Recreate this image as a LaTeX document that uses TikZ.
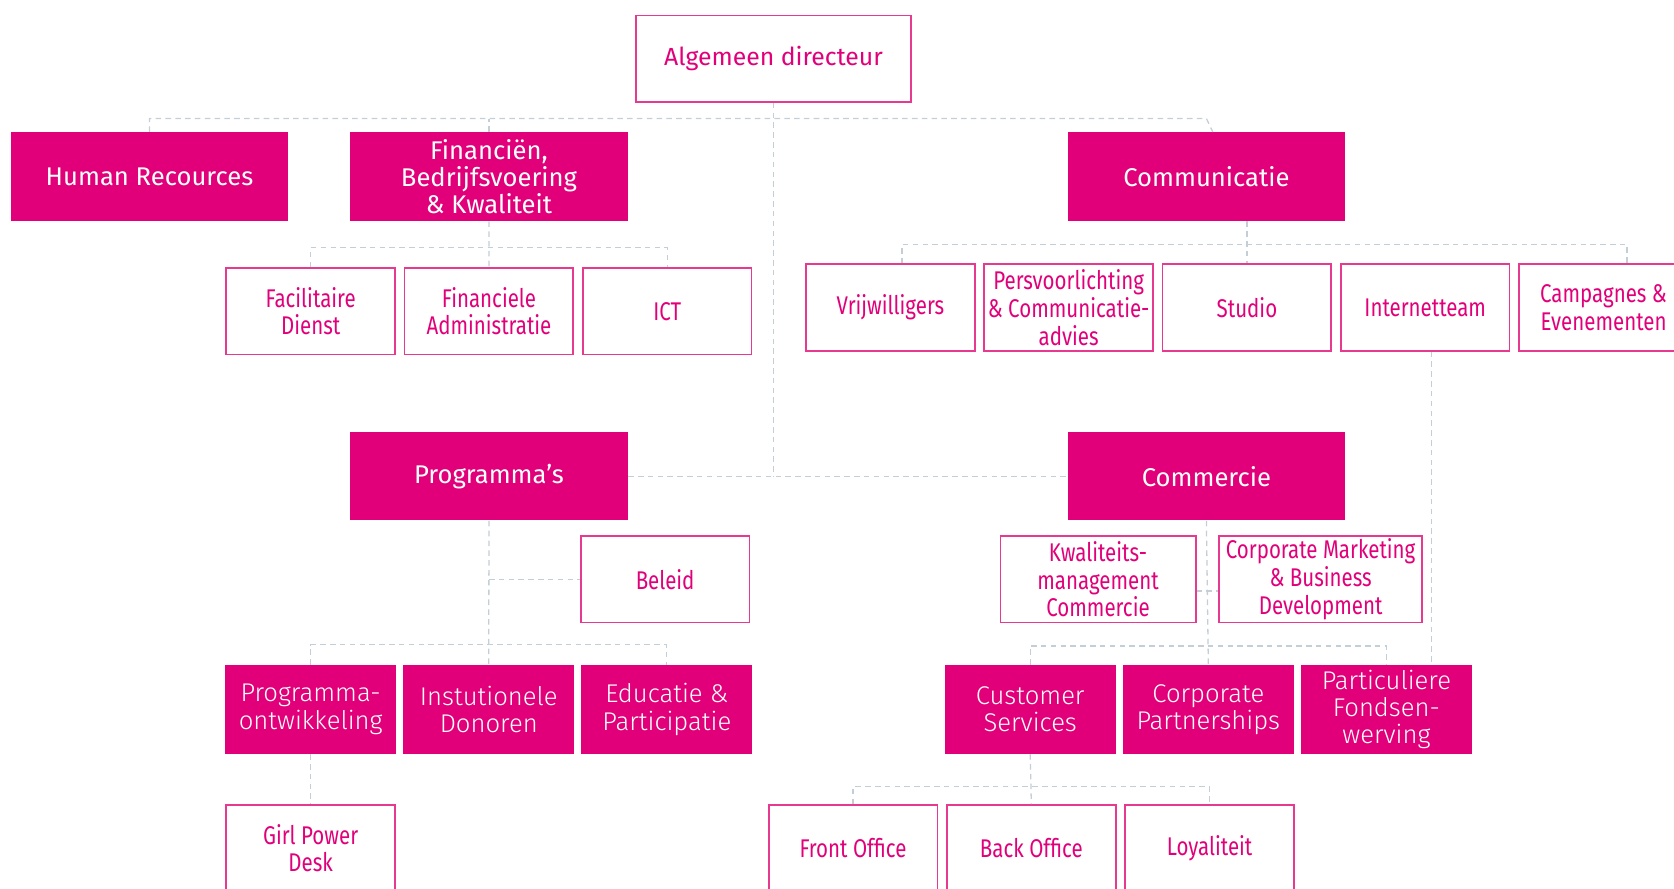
\documentclass[tikz,border=0pt]{standalone}
\usepackage{fontspec}
\setmainfont{Fira Sans}
\newfontfamily\lightfont{Fira Sans Light}
\newfontfamily\narrowfont{Fira Sans}[FakeStretch=0.8]
\usetikzlibrary{positioning}
\definecolor{kwfpink}{HTML}{E2007A}
\definecolor{kwfedge}{HTML}{E6398F}
\definecolor{kwfline}{HTML}{C3CED6}

\tikzset{
  unit/.style={fill=kwfpink,text=white,inner sep=0pt,align=center,minimum width=130pt,minimum height=41.5pt,font=\fontsize{12}{12.6}\selectfont},
  team/.style={fill=kwfpink,text=white,inner sep=0pt,align=center,minimum width=80pt,minimum height=41.5pt,font=\lightfont\fontsize{12}{12.8}\selectfont},
  desk/.style={draw=kwfedge,line width=0.8pt,fill=white,text=kwfpink,inner sep=0pt,align=center,minimum width=79pt,minimum height=40.5pt,font=\narrowfont\fontsize{12}{13}\selectfont},
  link/.style={draw=kwfline,line width=0.6pt,dash pattern=on 2.6pt off 2pt},
}

\begin{document}
\begin{tikzpicture}[x=0.5pt,y=-0.5pt]
\clip (0,0) rectangle (1568,832);

% directie en staf
\node (dir) [desk,minimum width=129pt,font=\fontsize{11.6}{13}\selectfont] at (724.5,55) {Algemeen directeur};
\node (hr) [unit] at (140,165.5) {Human Recources};
\node (fin) [unit] at (458,165.5) {Financiën,\\Bedrijfsvoering\\\& Kwaliteit};
\node (comm) [unit] at (1130,165.5) {Communicatie};

\node (fac) [desk] at (291,291.5) {Facilitaire\\Dienst};
\node (fadm) [desk,right=3.7pt of fac] {Financiele\\Administratie};
\node (ict) [desk,right=3.7pt of fadm] {ICT};

\node (vrij) [desk] at (834,288) {Vrijwilligers};
\node (pers) [desk,right=3.7pt of vrij] {Persvoorlichting\\\& Communicatie-\\advies};
\node (studio) [desk,right=3.7pt of pers] {Studio};
\node (inet) [desk,right=3.7pt of studio] {Internetteam};
\node (camp) [desk,right=3.7pt of inet] {Campagnes \&\\Evenementen};

% programma's
\node (prog) [unit] at (458,446) {Programma’s};
\node (beleid) [desk] at (623,542.5) {Beleid};
\node (pont) [team] at (291,664.5) {Programma-\\ontwikkeling};
\node (inst) [team,right=3pt of pont] {Instutionele\\Donoren};
\node (educ) [team,right=3pt of inst] {Educatie \&\\Participatie};
\node (girl) [desk] at (291,794.5) {Girl Power\\Desk};

% commercie
\node (com) [unit] at (1130,446) {Commercie};
\node (kwal) [desk,minimum width=91.5pt] at (1028.5,542.5) {Kwaliteits-\\management\\Commercie};
\node (corpm) [desk,minimum width=95pt] at (1237,542.5) {Corporate Marketing\\\& Business\\Development};
\node (custs) [team] at (965,664.5) {Customer\\Services};
\node (corpp) [team,right=3pt of custs] {Corporate\\Partnerships};
\node (part) [team,right=3pt of corpp] {Particuliere\\Fondsen-\\werving};
\node (front) [desk] at (799,794.5) {Front Office};
\node (back) [desk,right=3.7pt of front] {Back Office};
\node (loy) [desk,right=3.7pt of back] {Loyaliteit};

% lijnen
\coordinate (bus0) at (0,111);
\coordinate (bus1) at (0,232);
\coordinate (bus2) at (0,229);
\coordinate (bus3) at (0,604);
\coordinate (bus4) at (0,605);
\coordinate (bus5) at (0,737);

\draw[link] (hr.north) |- (comm.north |- bus0) -- ([xshift=3pt]comm.north);
\draw[link] (fin.north) -- (fin.north |- bus0);
\draw[link] (dir.south) -- (dir.south |- prog.east);
\draw[link] (prog.east) -- (com.west);

\draw[link] (fin.south) -- (fadm.north);
\draw[link] (fac.north) |- (ict.north |- bus1) -- (ict.north);

\draw[link] (comm.south -| studio.north) -- (studio.north);
\draw[link] ([xshift=5.5pt]vrij.north) |- ([xshift=11pt]camp.north |- bus2) -- ([xshift=11pt]camp.north);
\draw[link] ([xshift=3pt]inet.south) -- ([xshift=3pt]inet.south |- part.north);

\draw[link] (prog.south) -- (inst.north);
\draw[link] (prog.south |- beleid.west) -- (beleid.west);
\draw[link] (pont.north) |- (educ.north |- bus3) -- (educ.north);
\draw[link] (pont.south) -- (girl.north);

\draw[link] (com.south) -- (corpp.north);
\draw[link] ([yshift=-5.5pt]kwal.east) -- ([yshift=-5.5pt]corpm.west);
\draw[link] (custs.north) |- (part.north |- bus4) -- (part.north);
\draw[link] (custs.south) -- (back.north);
\draw[link] (front.north) |- (loy.north |- bus5) -- (loy.north);
\end{tikzpicture}
\end{document}
